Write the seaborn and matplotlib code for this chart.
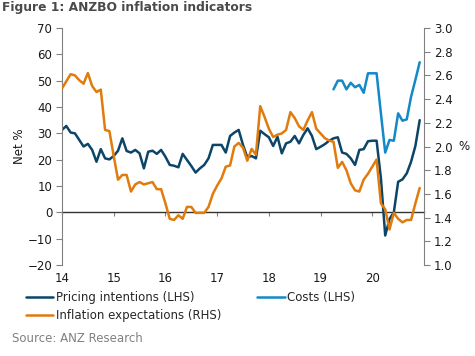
import matplotlib
matplotlib.use('Agg')
import matplotlib.pyplot as plt
import seaborn as sns
import pandas as pd
import numpy as np

# monthly, Jan 2014 .. Dec 2020 (x in two-digit years)
months = [14 + i / 12 for i in range(84)]

pricing = [31.3, 32.8, 30.3, 30.0, 27.5, 25.0, 26.0, 23.7, 19.2, 24.0, 20.5, 20.1,
           21.4, 23.4, 28.1, 23.3, 22.7, 23.7, 22.4, 16.7, 23.0, 23.4, 22.2, 23.7,
           21.1, 18.0, 17.7, 17.1, 22.2, 19.9, 17.6, 15.1, 16.7, 18.0, 20.5, 25.6,
           25.6, 25.6, 22.7, 29.0, 30.3, 31.3, 25.6, 20.9, 21.4, 20.5, 31.0, 29.7,
           28.5, 25.2, 28.7, 22.4, 26.2, 26.8, 29.0, 26.2, 29.4, 31.9, 29.0, 24.0,
           24.9, 25.9, 27.2, 28.1, 28.5, 22.7, 22.2, 20.5, 18.0, 23.7, 24.0, 27.0,
           27.2, 27.2, 13.0, -8.8, -2.5, 0.0, 11.6, 12.5, 14.8, 19.2, 25.2, 35.0]

costs = [np.nan] * 63 + [46.7, 50.0, 50.0, 46.7, 49.2, 47.5, 48.4, 45.4, 52.8,
                         52.8, 52.8, 37.6, 22.7, 27.5, 27.2, 37.6, 34.8, 35.3,
                         43.9, 50.3, 57.0]

infl_exp = [2.49, 2.55, 2.61, 2.60, 2.56, 2.53, 2.62, 2.51, 2.46, 2.48, 2.14, 2.13,
            1.92, 1.72, 1.76, 1.76, 1.62, 1.68, 1.70, 1.68, 1.69, 1.70, 1.64, 1.64,
            1.52, 1.39, 1.38, 1.42, 1.39, 1.49, 1.49, 1.44, 1.44, 1.44, 1.49, 1.60,
            1.67, 1.73, 1.83, 1.84, 2.00, 2.03, 1.99, 1.88, 1.98, 1.93, 2.34, 2.25,
            2.15, 2.08, 2.10, 2.11, 2.14, 2.29, 2.24, 2.17, 2.14, 2.22, 2.29, 2.15,
            2.11, 2.07, 2.05, 2.04, 1.82, 1.87, 1.80, 1.69, 1.63, 1.62, 1.72, 1.77,
            1.83, 1.89, 1.52, 1.47, 1.30, 1.44, 1.39, 1.36, 1.38, 1.38, 1.52, 1.65]

year_ticks = [14, 15, 16, 17, 18, 19, 20]
left_ticks = list(range(-20, 71, 10))
right_ticks = [1.0, 1.2, 1.4, 1.6, 1.8, 2.0, 2.2, 2.4, 2.6, 2.8, 3.0]

df = pd.DataFrame({'x': months, 'pricing': pricing, 'costs': costs, 'infl': infl_exp})

navy = '#0c4568'
lblue = '#1389c8'
orange = '#e07b0c'
grey = '#808080'
txt = '#1a1a1a'

sns.set_style('ticks')
plt.rcParams['font.family'] = ['DejaVu Sans']

fig = plt.figure(figsize=(4.75, 3.56), dpi=100)
ax = fig.add_axes([62 / 475, 1 - 265 / 356, 362 / 475, 237 / 356])
ax2 = ax.twinx()

sns.lineplot(data=df, x='x', y='pricing', ax=ax, color=navy, lw=1.8,
             label='Pricing intentions (LHS)', legend=False)
sns.lineplot(data=df, x='x', y='costs', ax=ax, color=lblue, lw=1.8,
             label='Costs (LHS)', legend=False)
sns.lineplot(data=df, x='x', y='infl', ax=ax2, color=orange, lw=1.8,
             label='Inflation expectations (RHS)', legend=False)

ax.set_xlim(14, 21)
ax.set_ylim(-20, 70)
ax2.set_ylim(1, 3)
ax.set_yticks(left_ticks)
ax2.set_yticks(right_ticks)
ax2.set_yticklabels(['%.1f' % t for t in right_ticks])
ax.set_xticks(year_ticks)
ax.set_xticklabels([str(t) for t in year_ticks])

for a in (ax, ax2):
    a.spines['top'].set_visible(False)
    a.spines['bottom'].set_visible(False)
ax.spines['right'].set_visible(False)
ax2.spines['left'].set_visible(False)
ax.spines['left'].set_color(grey)
ax2.spines['right'].set_color(grey)

ax.tick_params(axis='x', length=0, pad=5, labelsize=8.5, labelcolor=txt)
ax.tick_params(axis='y', length=4, color=grey, pad=3, labelsize=8.5, labelcolor=txt)
ax2.tick_params(axis='y', length=4, color=grey, pad=3, labelsize=8.5, labelcolor=txt)

# zero line with year ticks
sec = ax.secondary_xaxis(20 / 90)
sec.set_xticks(year_ticks)
sec.set_xticklabels([])
sec.spines['bottom'].set_color('#333333')
sec.spines['bottom'].set_linewidth(1.0)
sec.tick_params(axis='x', length=3, color=grey, direction='out')

ax.set_xlabel('')
ax.set_ylabel('Net %', fontsize=8.5, color=txt, labelpad=1)
ax2.set_ylabel('%', fontsize=8.5, color=txt, rotation=0, va='center', ha='left')
ax2.yaxis.set_label_coords((458 - 62) / 362, 0.5)

h1, l1 = ax.get_legend_handles_labels()
h2, l2 = ax2.get_legend_handles_labels()
handles = [h1[0], h2[0], h1[1]]
labels = [l1[0], l2[0], l1[1]]
fig.legend(handles, labels, loc='upper left', bbox_to_anchor=(26 / 475, 1 - 291 / 356),
           ncol=2, frameon=False, fontsize=8.5, handlelength=2.3, handletextpad=0.2,
           columnspacing=3.1, labelspacing=0.45, borderpad=0, borderaxespad=0)

fig.text(2 / 475, 1 - 8 / 356, 'Figure 1: ANZBO inflation indicators',
         fontsize=8.8, fontweight='bold', color='#4a4a4a', va='center')
fig.text(12 / 475, 1 - 339 / 356, 'Source: ANZ Research', fontsize=8.5,
         color=grey, va='center')

fig.savefig('out.png', dpi=100)
